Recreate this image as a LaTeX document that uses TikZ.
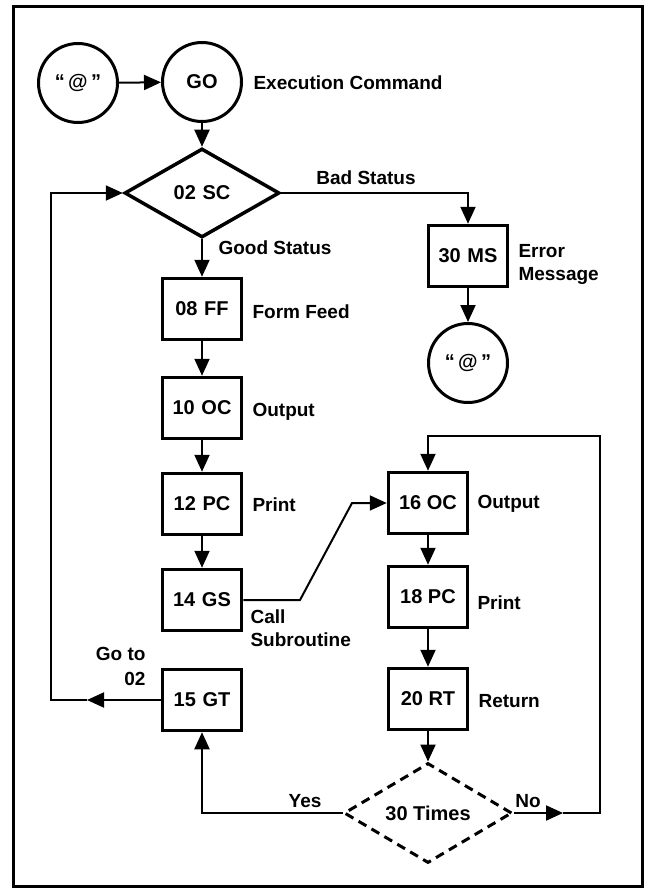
\documentclass[tikz,border=0pt]{standalone}
\usepackage{fontspec}
\setmainfont{Liberation Sans}
\usetikzlibrary{shapes.geometric,arrows.meta}

\begin{document}
\begin{tikzpicture}[x=1pt, y=-1pt, font=\fontsize{19}{23}\selectfont\bfseries,
  box/.style={draw, line width=3.5pt, minimum width=79pt, minimum height=61pt, inner sep=0pt,
    font=\fontsize{20}{23}\selectfont\bfseries},
  term/.style={draw, circle, line width=3pt, minimum size=79pt, inner sep=0pt,
    font=\fontsize{20}{23}\selectfont\bfseries},
  test/.style={draw, diamond, line width=3.5pt, inner sep=0pt,
    font=\fontsize{20}{23}\selectfont\bfseries},
  arr/.style={line width=2pt, -{Triangle[length=17pt,width=15pt]}},
  note/.style={anchor=west, align=left}]
  \useasboundingbox (0,0) rectangle (648,891);
  % Frame
  \draw[line width=3pt] (13,7) rectangle (642,886);
  % Start and status check
  \node[term] (start) at (78,83) {“\,@\,”};
  \node[term] (go) at (202,82) {GO};
  \node[note] (gotxt) at (250,83) {Execution Command};
  \node[test, minimum width=155pt, minimum height=89pt] (sc) at (202,193) {02\,\,SC};
  \node[box] (ms) at (468,256) {30\,\,MS};
  \node[note] (mstxt) at (515,264) {Error\\Message};
  \node[term] (stop) at (468,363) {“\,@\,”};
  % Main column
  \foreach \n/\y/\t in {ff/309/08\,\,FF, oc/408/10\,\,OC, pc/504/12\,\,PC, gs/600/14\,\,GS, gt/700/15\,\,GT}
    \node[box] (\n) at (202,\y) {\t};
  % Subroutine column
  \foreach \n/\y/\t in {so/503/16 OC, sp/597/18 PC, rt/699/20 RT}
    \node[box] (\n) at (428,\y) {\t};
  \node[test, dashed, dash pattern=on 9pt off 6pt, line width=3pt,
        minimum width=168pt, minimum height=100pt] (cnt) at (428,813) {30 Times};
  % Notes
  \node[note] (fftxt) at (249,312) {Form Feed};
  \node[note] (octxt) at (249,412) {Output};
  \node[note] (pctxt) at (249,505) {Print};
  \node[note] (gstxt) at (247,628) {Call\\Subroutine};
  \node[anchor=east, align=right, font=\fontsize{19}{25}\selectfont\bfseries] (gttxt) at (149,666) {Go to\\02};
  \node[note] (sotxt) at (474,504) {Output};
  \node[note] (sptxt) at (474,603) {Print};
  \node[note] (rttxt) at (475,701) {Return};
  \node (bad) at (366,178) {Bad Status};
  \node[note] (good) at (215,248) {Good Status};
  \node (yes) at (305,801) {Yes};
  \node (no) at (528,801) {No};
  % Bends
  \coordinate (k1) at (300,600);
  \coordinate (k2) at (352,503);
  \coordinate (lt) at (87,700);
  \coordinate (lc) at (51,193);
  \coordinate (nt) at (563,813);
  \coordinate (rc) at (600,436);
  % Connectors
  \draw[arr] (start) -- (go);
  \draw[arr] (go) -- (sc);
  \draw[arr] (sc.east) -| (ms.north);
  \draw[arr] (ms) -- (stop);
  \draw[arr] (sc.south) -- (ff.north);
  \foreach \a/\b in {ff/oc, oc/pc, pc/gs, so/sp, sp/rt, rt/cnt}
    \draw[arr] (\a) -- (\b);
  \draw[arr] (gs.east) -- (k1) -- (k2) -- (so.west);
  \draw[arr] (cnt.west) -| (gt.south);
  \draw[arr] (cnt.east) -- (nt);
  \draw[arr] (nt) -| (rc) -| (so.north);
  \draw[arr] (gt.west) -- (lt);
  \draw[arr] (lt) -| (lc) -- (sc.west);
\end{tikzpicture}
\end{document}
